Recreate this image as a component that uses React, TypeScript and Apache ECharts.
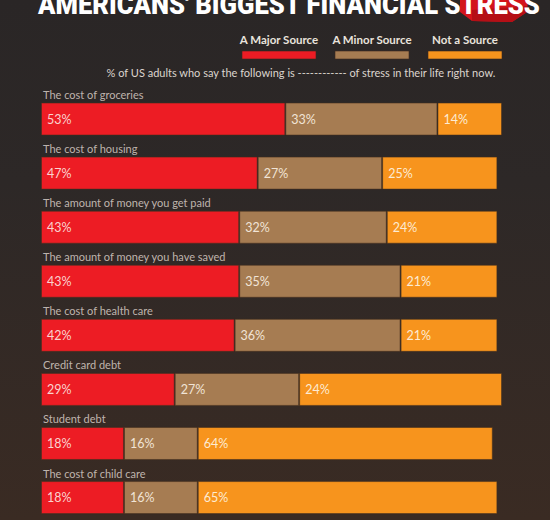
import React, { useEffect, useRef } from "react";
import * as echarts from "echarts";

const categories = [
  "The cost of groceries",
  "The cost of housing",
  "The amount of money you get paid",
  "The amount of money you have saved",
  "The cost of health care",
  "Credit card debt",
  "Student debt",
  "The cost of child care",
];
const majorSource = [53, 47, 43, 43, 42, 29, 18, 18];
const minorSource = [33, 27, 32, 35, 36, 27, 16, 16];
// bar lengths as drawn; the printed labels are kept separately (credit card bar is drawn as 44 but printed 24%)
const notSource = [14, 25, 24, 21, 21, 44, 64, 65];
const notSourceLabels = ["14%", "25%", "24%", "21%", "21%", "24%", "64%", "65%"];
const seriesNames = ["A Major Source", "A Minor Source", "Not a Source"];
const title = "AMERICANS' BIGGEST FINANCIAL STRESS";
const subtitle =
  "% of US adults who say the following is ------------ of stress in their life right now.";

const RED = "#ED1C24";
const TAN = "#A67C52";
const ORANGE = "#F7941D";

export default function App() {
  const ref = useRef<HTMLDivElement>(null);
  useEffect(() => {
    if (!ref.current) return;
    const chart = echarts.init(ref.current, null, { renderer: "svg" });
    const font = "Lato";
    const barStyle = (c: string) => ({
      color: c,
      borderColor: "rgba(70,48,30,0.55)",
      borderWidth: 1,
    });
    const valueLabel = (color: string, fmt?: (p: any) => string) => ({
      show: true,
      position: "insideLeft" as const,
      distance: 6,
      color,
      fontFamily: font,
      fontSize: 12.5,
      formatter: fmt || ((p: any) => p.value + "%"),
    });
    const legendColors = [RED, TAN, ORANGE];
    const legendCenters = [279, 372, 465];
    const legendGraphics: any[] = [];
    seriesNames.forEach((n, i) => {
      legendGraphics.push({
        type: "text",
        x: legendCenters[i],
        y: 39,
        style: {
          text: n,
          fill: "#e9e3dd",
          font: `bold 11.5px ${font}`,
          textAlign: "center",
          textVerticalAlign: "middle",
          align: "center",
          verticalAlign: "middle",
        },
      });
      legendGraphics.push({
        type: "rect",
        shape: { x: legendCenters[i] - 37, y: 51, width: 74, height: 8 },
        style: { fill: legendColors[i], stroke: "rgba(60,40,30,0.6)", lineWidth: 1 },
      });
    });

    chart.setOption({
      animation: false,
      backgroundColor: "transparent",
      grid: {
        left: 41,
        width: 461,
        top: 92,
        height: 432.6,
        containLabel: false,
        outerBoundsMode: "none",
      },
      xAxis: { type: "value", min: 0, max: 100, show: false },
      yAxis: {
        type: "category",
        data: categories,
        inverse: true,
        show: false,
      },
      graphic: [
        {
          type: "polygon",
          shape: {
            points: [
              [460, 0],
              [528, 0],
              [527, 12],
              [512, 22],
              [472, 21],
              [460, 12],
            ],
          },
          style: { fill: "#d3141c" },
          z: 1,
        },
        {
          type: "polygon",
          shape: {
            points: [
              [472, 10],
              [527, 6],
              [527, 12],
              [512, 22],
              [472, 21],
            ],
          },
          style: { fill: "#b50f16" },
          z: 1,
        },
        {
          type: "text",
          x: 38,
          y: 5,
          scaleX: 0.915,
          z: 2,
          style: {
            text: title,
            fill: "#ffffff",
            font: `900 28px Roboto`,
            textAlign: "left",
            textVerticalAlign: "middle",
            align: "left",
            verticalAlign: "middle",
          },
        },
        ...legendGraphics,
        {
          type: "text",
          x: 301,
          y: 72,
          style: {
            text: subtitle,
            fill: "#dcd5ce",
            font: `11px ${font}`,
            textAlign: "center",
            textVerticalAlign: "middle",
            align: "center",
            verticalAlign: "middle",
          },
        },
      ],
      series: [
        {
          name: seriesNames[0],
          type: "bar",
          stack: "s",
          barWidth: 33,
          data: majorSource,
          itemStyle: barStyle(RED),
          label: valueLabel("#fad3cf"),
          silent: true,
        },
        {
          name: seriesNames[1],
          type: "bar",
          stack: "s",
          barWidth: 33,
          data: minorSource,
          itemStyle: barStyle(TAN),
          label: valueLabel("#f1e4d6"),
          silent: true,
        },
        {
          name: seriesNames[2],
          type: "bar",
          stack: "s",
          barWidth: 33,
          data: notSource,
          itemStyle: barStyle(ORANGE),
          label: valueLabel("#fdebd3", (p: any) => notSourceLabels[p.dataIndex]),
          silent: true,
        },
        {
          name: "labels",
          type: "scatter",
          symbolSize: 0,
          silent: true,
          z: 5,
          data: categories.map((c) => [0, c]),
          label: {
            show: true,
            position: "right",
            distance: 2,
            offset: [0, -24.5],
            color: "#e2dad2",
            fontFamily: font,
            fontSize: 11,
            formatter: (p: any) => p.value[1],
          },
        },
      ],
    });
    return () => chart.dispose();
  }, []);

  return (
    <div
      ref={ref}
      style={{
        position: "fixed",
        left: 0,
        top: 0,
        width: 550,
        height: 520,
        background:
          "linear-gradient(to bottom, #2a2626 0%, #2d2827 35%, #3a2b23 100%)",
      }}
    />
  );
}
